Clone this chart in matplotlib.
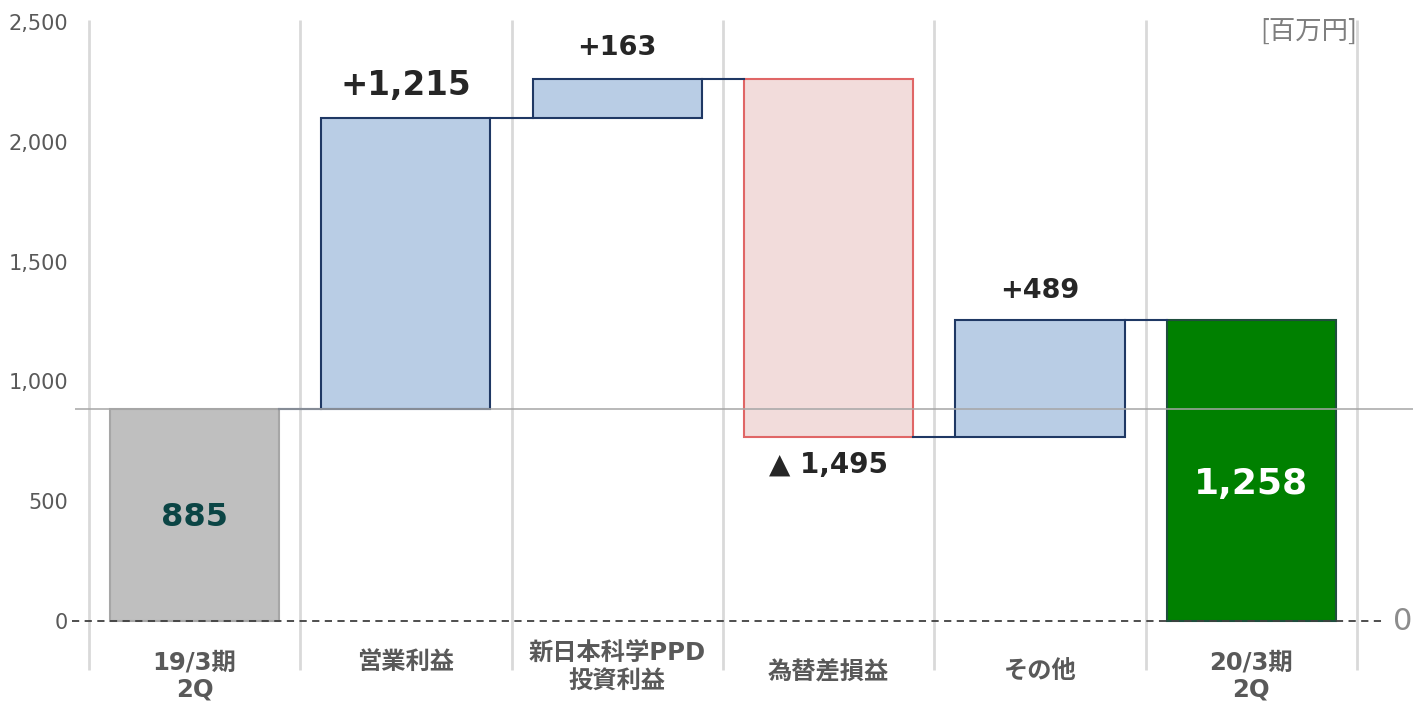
import matplotlib.pyplot as plt
import numpy as np

plt.rcParams['font.family'] = ['DejaVu Sans', 'Noto Sans CJK JP']

# データ
categories = ['19/3期\n2Q', '営業利益', '新日本科学PPD\n投資利益', '為替差損益', 'その他', '20/3期\n2Q']
start_value = 885
deltas = [1215, 163, -1495, 489]
end_value = 1258
delta_labels = ['+1,215', '+163', '▲ 1,495', '+489']
yticks = [0, 500, 1000, 1500, 2000, 2500]

W, H = 1413, 702
fig = plt.figure(figsize=(W / 100, H / 100), dpi=100)
# 軸の位置（ピクセルから）
left, right, top, bottom = 75, 1413, 22, 671.3
ax = fig.add_axes([left / W, 1 - bottom / H, (right - left) / W, (bottom - top) / H])
ax.set_xlim(-0.566, 5.765)
ax.set_ylim(-210, 2500)
for s in ax.spines.values():
    s.set_visible(False)
ax.set_xticks([])
ax.set_yticks(yticks)
ax.set_yticklabels([f'{v:,}' for v in yticks], color='#595959', fontsize=15)
ax.tick_params(axis='y', length=0, pad=5)

# 縦グリッド
ax.vlines(np.arange(-0.5, 6.0, 1.0), -205, 2510, colors='#D9D9D9', lw=2, zorder=0, clip_on=False)

# 棒
width = 0.8
ax.bar(0, start_value, width, color='#BFBFBF', edgecolor='#A6A6A6', lw=1.5, zorder=2)
level = start_value
tops = [start_value]
for i, d in enumerate(deltas, start=1):
    lo, hi = (level, level + d) if d > 0 else (level + d, level)
    if d > 0:
        ax.bar(i, hi - lo, width, bottom=lo, color='#B9CDE5', edgecolor='#1F3864', lw=1.5, zorder=2)
    else:
        ax.bar(i, hi - lo, width, bottom=lo, color='#F2DCDB', edgecolor='#E06666', lw=1.5, zorder=2)
    level += d
    tops.append(level)
ax.bar(5, end_value, width, color='#008000', edgecolor='#1F4E3D', lw=1.5, zorder=2)

# 接続線
for i, t in enumerate(tops):
    ax.plot([i + width / 2, i + 1 - width / 2], [t, t], color='#1F3864', lw=1.5, zorder=3)

# 885 水平線とゼロ破線
ax.axhline(start_value, color='#A6A6A6', lw=1.3, alpha=0.85, zorder=4)
ax.plot([-0.58, 5.63], [0, 0], color='#404040', lw=1.3, ls=(0, (4, 3)), zorder=4, clip_on=False)

# ラベル
ax.text(0, 430, f'{start_value:,}', ha='center', va='center', fontsize=23, fontweight='bold', color='#0B4545', zorder=5)
ax.text(5, 572, f'{end_value:,}', ha='center', va='center', fontsize=26, fontweight='bold', color='white', zorder=5)
label_y = [2237, 2392, 651, 1377]
label_size = [23.5, 19.5, 20, 19.5]
for i, (lab, y, fs) in enumerate(zip(delta_labels, label_y, label_size), start=1):
    ax.text(i, y, lab, ha='center', va='center', fontsize=fs, fontweight='bold', color='#262626', zorder=5)

# カテゴリ名
cat_y = [-228, -171, -195, -213, -213, -228]
for i, (c, y) in enumerate(zip(categories, cat_y)):
    ax.text(i, y, c, ha='center', va='center', fontsize=17.5, fontweight='bold', color='#595959',
            linespacing=1.15, clip_on=False)

ax.text(5.5, 2460, '[百万円]', ha='right', va='center', fontsize=19, color='#7F7F7F',
        family=['Noto Sans CJK JP', 'DejaVu Sans'])
fig.text(1403 / W, 1 - 621 / H, '0', ha='center', va='center', fontsize=22, color='#8C8C8C')

fig.savefig('out.png', dpi=100)
